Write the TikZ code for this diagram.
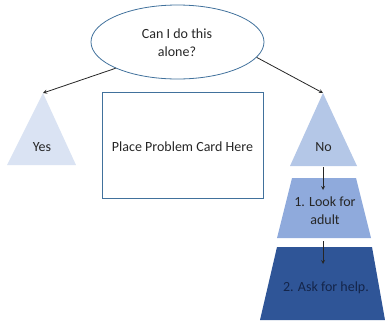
\documentclass[tikz,border=0pt]{standalone}
\usepackage{fontspec}
\setmainfont{Carlito}
\usetikzlibrary{shapes.geometric}

\definecolor{yesfill}{HTML}{DAE3F3}
\definecolor{nofill}{HTML}{B4C7E7}
\definecolor{lookfill}{HTML}{8FAADC}
\definecolor{askfill}{HTML}{2F5597}
\definecolor{asktext}{HTML}{14254A}
\definecolor{edgeblue}{HTML}{41719C}

\begin{document}
\begin{tikzpicture}[x=1pt, y=-1pt, >=stealth, font=\fontsize{14}{18}\selectfont,
    lbl/.style={text=black!85, align=center},
    flow/.style={->, line width=0.8pt, black!85}]

  \useasboundingbox (0,0) rectangle (385,322);

  % --- Pregunta ---
  \node[ellipse, draw=edgeblue, line width=0.8pt, minimum width=173pt,
        minimum height=74pt, lbl] (question) at (177.5,42) {};
  \node[lbl] (questiontext) at (177,43) {Can I do this\\alone?};

  % --- Tarjeta ---
  \draw[draw=edgeblue, line width=0.7pt] (102,92) rectangle (263,198);
  \node[lbl] (card) at (182.5,147) {Place Problem Card Here};

  % --- Rama "Yes" ---
  \fill[yesfill] (43,93) -- (76,165) -- (7,165) -- cycle;
  \coordinate (yesTop) at (43,93);
  \node[lbl] (yes) at (42,147) {Yes};

  % --- Rama "No" ---
  \fill[nofill] (323,93) -- (357,166) -- (290,166) -- cycle;
  \coordinate (noTop) at (323,93);
  \coordinate (noBot) at (323,167);
  \node[lbl] (no) at (323.5,147) {No};

  % --- Pasos ---
  \fill[lookfill] (292,178) -- (356,178) -- (371,238) -- (277,238) -- cycle;
  \coordinate (lookTop) at (323,190);
  \coordinate (lookBot) at (323,241);
  \node[lbl] (look) at (325,211) {1. Look for\\adult};

  \fill[askfill] (277,247) -- (372,247) -- (385,320) -- (260,320) -- cycle;
  \coordinate (askTop) at (323,264);
  \node[text=asktext] (ask) at (326,288) {2. Ask for help.};

  % --- Flechas ---
  \draw[flow] (question.203) -- (yesTop);
  \draw[flow] (question.-11) -- (noTop);
  \draw[flow] (noBot) -- (lookTop);
  \draw[flow] (lookBot) -- (askTop);

\end{tikzpicture}
\end{document}
